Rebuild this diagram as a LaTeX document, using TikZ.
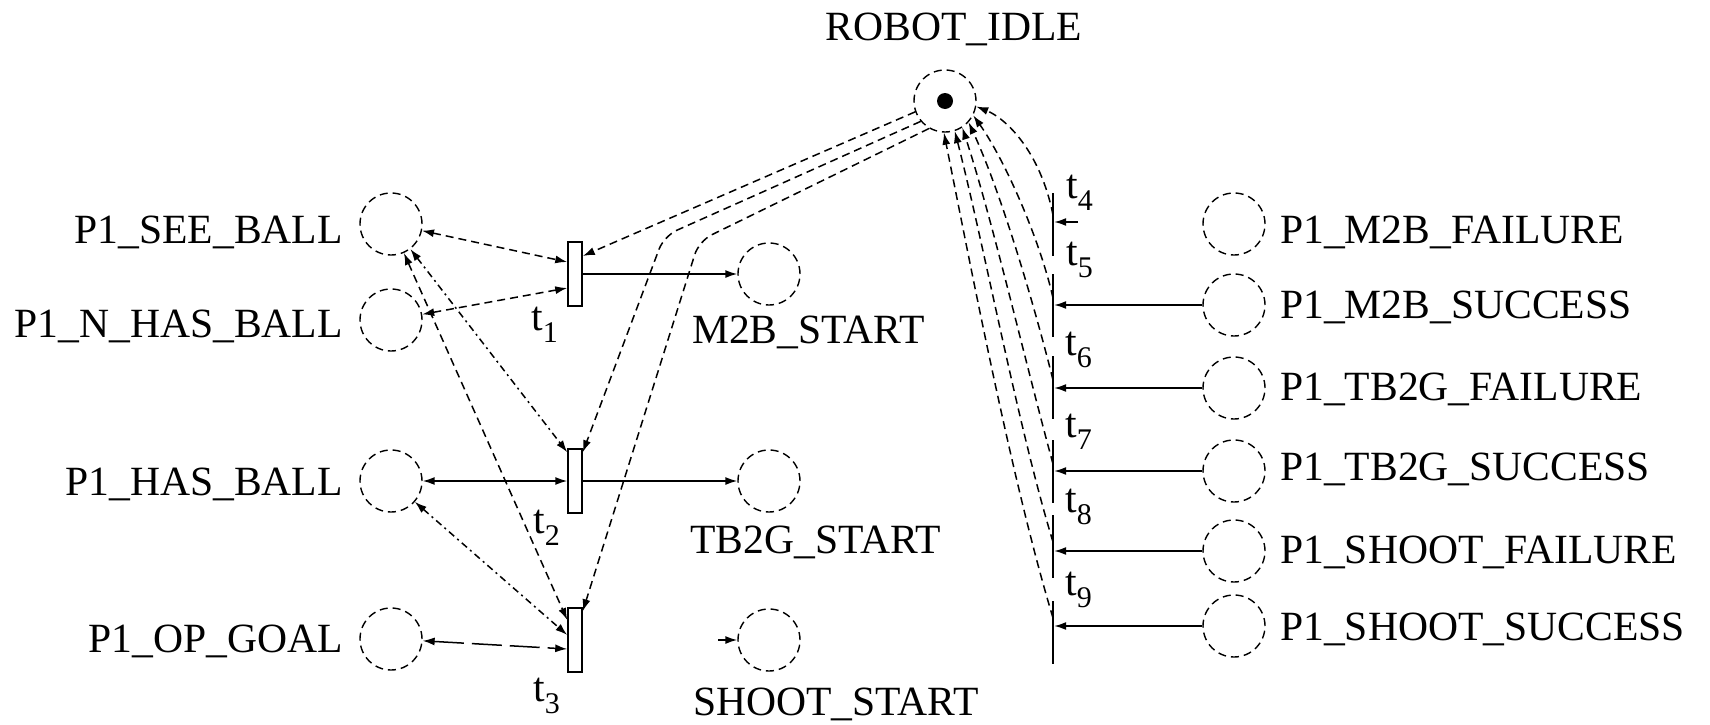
\documentclass[tikz,border=0pt]{standalone}
\usepackage{fontspec}
\setmainfont{Liberation Serif}
\usetikzlibrary{arrows.meta,calc}
\newcommand{\tlab}[1]{t\raisebox{-12pt}{\fontsize{30pt}{30pt}\selectfont #1}}
\begin{document}
\begin{tikzpicture}[x=1pt,y=-1pt,
  font=\fontsize{41.6pt}{44pt}\selectfont,
  pplace/.style={circle,draw,minimum size=62pt,inner sep=0pt,line width=1.4pt,dash pattern=on 8pt off 5pt},
  tbox/.style={rectangle,draw,fill=white,minimum width=14pt,minimum height=64pt,inner sep=0pt,line width=1.5pt},
  tbar/.style={rectangle,fill=black,minimum width=2pt,minimum height=63pt,inner sep=0pt},
  lab/.style={inner sep=0pt},
  arrend/.style={-{Latex[length=12pt,width=8pt]}},
  arrboth/.style={{Latex[length=12pt,width=8pt]}-{Latex[length=12pt,width=8pt]}},
  sarc/.style={line width=1.5pt},
  darc/.style={line width=1.5pt,dash pattern=on 8pt off 5pt},
  ddarc/.style={line width=1.5pt,dash pattern=on 7pt off 4pt on 2pt off 4pt},
  larc/.style={line width=1.5pt,dash pattern=on 30pt off 8pt},
]
\useasboundingbox (0,0) rectangle (1710,725);

% ROBOT_IDLE
\node[pplace] (robot) at (945,101) {};
\fill (robot.center) circle[radius=8pt];
\node[lab,anchor=base] (lrobot) at (954,41) {ROBOT\_IDLE};

% left places
\node[pplace] (see) at (391,224) {};
\node[pplace] (nhas) at (391,320) {};
\node[pplace] (has) at (391,481) {};
\node[pplace] (op) at (391,639) {};
\node[lab,anchor=base east] (lsee) at (343,243) {P1\_SEE\_BALL};
\node[lab,anchor=base east] (lnhas) at (343,337) {P1\_N\_HAS\_BALL};
\node[lab,anchor=base east] (lhas) at (343,495) {P1\_HAS\_BALL};
\node[lab,anchor=base east] (lop) at (343,652) {P1\_OP\_GOAL};

% left transitions
\node[tbox] (t1) at (575,274) {};
\node[tbox] (t2) at (575,481) {};
\node[tbox] (t3) at (575,640) {};
\node[lab,anchor=base west] (lt1) at (531,330) {\tlab{1}};
\node[lab,anchor=base west] (lt2) at (533,533) {\tlab{2}};
\node[lab,anchor=base west] (lt3) at (533,701) {\tlab{3}};

% output places
\node[pplace] (m2b) at (769,274) {};
\node[pplace] (tb2g) at (769,481) {};
\node[pplace] (shoot) at (769,640) {};
\node[lab,anchor=base west] (lm2b) at (692,343) {M2B\_START};
\node[lab,anchor=base west] (ltb2g) at (690,553) {TB2G\_START};
\node[lab,anchor=base west] (lshoot) at (693,715) {SHOOT\_START};

% right transitions
\node[tbar] (t4) at (1053,224) {};
\node[tbar] (t5) at (1053,305) {};
\node[tbar] (t6) at (1053,387) {};
\node[tbar] (t7) at (1053,471) {};
\node[tbar] (t8) at (1053,546) {};
\node[tbar] (t9) at (1053,632) {};
\node[lab,anchor=base west] (lt4) at (1066,198) {\tlab{4}};
\node[lab,anchor=base west] (lt5) at (1066,265) {\tlab{5}};
\node[lab,anchor=base west] (lt6) at (1065,355) {\tlab{6}};
\node[lab,anchor=base west] (lt7) at (1065,437) {\tlab{7}};
\node[lab,anchor=base west] (lt8) at (1065,512) {\tlab{8}};
\node[lab,anchor=base west] (lt9) at (1065,595) {\tlab{9}};

% right places
\node[pplace] (m2bf) at (1234,224) {};
\node[pplace] (m2bs) at (1234,305) {};
\node[pplace] (tb2gf) at (1234,388) {};
\node[pplace] (tb2gs) at (1234,471) {};
\node[pplace] (shf) at (1234,551) {};
\node[pplace] (shs) at (1234,626) {};
\node[lab,anchor=base west] (lm2bf) at (1280,243) {P1\_M2B\_FAILURE};
\node[lab,anchor=base west] (lm2bs) at (1280,318) {P1\_M2B\_SUCCESS};
\node[lab,anchor=base west] (ltb2gf) at (1280,400) {P1\_TB2G\_FAILURE};
\node[lab,anchor=base west] (ltb2gs) at (1280,480) {P1\_TB2G\_SUCCESS};
\node[lab,anchor=base west] (lshf) at (1280,563) {P1\_SHOOT\_FAILURE};
\node[lab,anchor=base west] (lshs) at (1280,640) {P1\_SHOOT\_SUCCESS};

% t1 arcs
\draw[darc,arrboth] (see) -- ([yshift=12pt]t1.west);
\draw[darc,arrboth] (nhas) -- ([yshift=-14pt]t1.west);
\draw[sarc,arrend] (t1) -- (m2b);
\draw[darc,arrend] (robot.200) -- ([yshift=18pt]t1.east);

% t2 arcs
\draw[ddarc,arrboth] (see) -- ([yshift=-4pt]t2.north west);
\draw[sarc,arrboth] (has) -- (t2);
\draw[sarc,arrend] (t2) -- (tb2g);
\draw[darc,arrend,rounded corners=14pt] (robot.220) -- (664,236) -- ([yshift=-4pt]t2.north east);

% t3 arcs
\draw[darc,arrboth] (see) -- ([yshift=20pt]t3.west);
\draw[ddarc,arrboth] (has) -- ([yshift=5pt]t3.west);
\draw[larc,arrboth] (op) -- ([yshift=-9pt]t3.west);
\draw[darc,arrend,rounded corners=14pt] (robot.240) -- (699,241) -- ([yshift=-4pt]t3.north east);
\coordinate (shin) at (718,640);
\draw[sarc,arrend] (shin) -- (shoot);

% right input arcs
\coordinate (t4in) at (1078,222);
\draw[sarc,arrend] (t4in) -- (t4.east |- t4in);
\draw[sarc,arrend] (m2bs) -- (t5.east |- m2bs);
\draw[sarc,arrend] (tb2gf) -- (t6.east |- tb2gf);
\draw[sarc,arrend] (tb2gs) -- (t7.east |- tb2gs);
\draw[sarc,arrend] (shf) -- (t8.east |- shf);
\draw[sarc,arrend] (shs) -- (t9.east |- shs);

% return arcs to ROBOT_IDLE
\draw[darc,arrend] ([yshift=9pt]t4.center) .. controls (1040,150) and (1005,118) .. (robot.-10);
\draw[darc,arrend] ([yshift=7pt]t5.center) .. controls (1040,240) and (1005,160) .. (robot.-27);
\draw[darc,arrend] ([yshift=7pt]t6.center) .. controls (1033,300) and (1000,190) .. (robot.-42);
\draw[darc,arrend] ([yshift=7pt]t7.center) .. controls (1026,365) and (992,218) .. (robot.-57);
\draw[darc,arrend] ([yshift=4pt]t8.center) .. controls (1018,427) and (984,245) .. (robot.-72);
\draw[darc,arrend] ([yshift=14pt]t9.center) .. controls (1012,482) and (971,268) .. (robot.-92);
\end{tikzpicture}
\end{document}
